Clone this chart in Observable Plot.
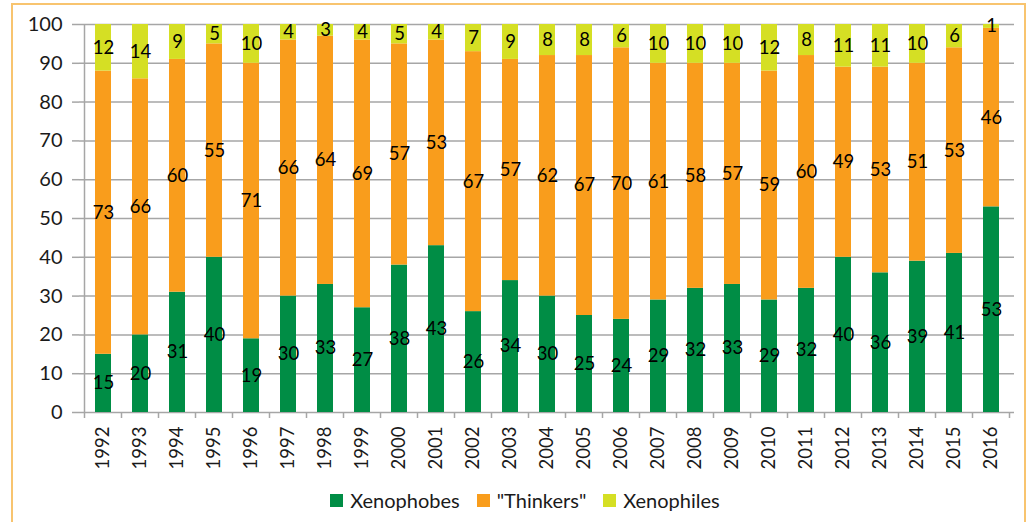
<!DOCTYPE html>
<html><head><meta charset="utf-8">
<script src="https://cdn.jsdelivr.net/npm/d3@7"></script>
<script src="https://cdn.jsdelivr.net/npm/@observablehq/plot@0.6"></script>
<style>
html,body{margin:0;padding:0;background:#fff;}
#wrap{position:relative;width:1030px;height:522px;overflow:hidden;font-family:Lato,sans-serif;}
#border{position:absolute;left:11px;top:3px;width:1015px;height:560px;border:2px solid #F8C46F;box-sizing:border-box;}
#chart{position:absolute;left:0;top:0;}
#legend{position:absolute;top:489px;left:0;width:1050px;display:flex;justify-content:center;gap:17px;font-size:20px;line-height:22px;color:#1a1a1a;}
.item{display:flex;align-items:center;gap:7px}
.sw{width:13px;height:13px}
</style></head>
<body>
<div id="wrap"><div id="border"></div><div id="chart"></div><div id="legend"></div></div>
<script>
const years = ["1992","1993","1994","1995","1996","1997","1998","1999","2000","2001","2002","2003","2004","2005","2006","2007","2008","2009","2010","2011","2012","2013","2014","2015","2016"];
const xenophobes = [15,20,31,40,19,30,33,27,38,43,26,34,30,25,24,29,32,33,29,32,40,36,39,41,53];
const thinkers   = [73,66,60,55,71,66,64,69,57,53,67,57,62,67,70,61,58,57,59,60,49,53,51,53,46];
const xenophiles = [12,14,9,5,10,4,3,4,5,4,7,9,8,8,6,10,10,10,12,8,11,11,10,6,1];
const seriesNames = ["Xenophobes", "\"Thinkers\"", "Xenophiles"];
const seriesColors = ["#008D45", "#F99D1C", "#D5DF24"];
const yTicks = [0,10,20,30,40,50,60,70,80,90,100];

const seriesValues = [xenophobes, thinkers, xenophiles];
const rows = [];
seriesNames.forEach((s, si) => years.forEach((y, i) => rows.push({year: y, series: s, value: seriesValues[si][i]})));

const gridColor = "#A6A6A6";
const plot = Plot.plot({
  width: 1030, height: 475,
  marginTop: 24, marginBottom: 63, marginLeft: 79, marginRight: 16,
  style: {fontFamily: "Lato, sans-serif", background: "transparent", color: "#1a1a1a"},
  x: {type: "band", domain: years, paddingInner: 0.572, paddingOuter: 0.286, label: null},
  y: {domain: [0, 100], label: null},
  color: {domain: seriesNames, range: seriesColors},
  marks: [
    Plot.gridY(yTicks, {stroke: gridColor, strokeOpacity: 1, strokeWidth: 1.5}),
    Plot.barY(rows, {x: "year", y: "value", fill: "series", z: "series"}),
    Plot.text(rows, Plot.stackY({x: "year", y: "value", z: "series", text: d => String(d.value), fontSize: 18.5, fill: "#000"})),
    Plot.axisY(yTicks, {tickSize: 7, tickPadding: 10, stroke: gridColor, strokeWidth: 1.5, fontSize: 20, fill: "#1a1a1a", label: null}),
    Plot.axisX({tickSize: 0, tickPadding: 14, tickRotate: -90, fontSize: 18.5, fill: "#1a1a1a", label: null})
  ]
});
document.getElementById("chart").appendChild(plot);

// axis line and category boundary ticks from the plot's own scales
const xs = plot.scale("x"), ys = plot.scale("y");
const bw = xs.bandwidth;
const centers = years.map(y => xs.apply(y) + bw / 2);
const step = centers[1] - centers[0];
const bounds = centers.map(c => c - step / 2).concat([centers[centers.length - 1] + step / 2]);
const svg = d3.select(plot);
const g = svg.append("g").attr("stroke", gridColor).attr("stroke-width", 1.5);
const y0 = ys.apply(0), y100 = ys.apply(100);
g.append("line").attr("x1", bounds[0]).attr("x2", bounds[0]).attr("y1", y100).attr("y2", y0);
g.selectAll("line.b").data(bounds).join("line").attr("class", "b")
  .attr("x1", d => d).attr("x2", d => d).attr("y1", y0).attr("y2", y0 + 6);

const legend = d3.select("#legend");
seriesNames.forEach((s, i) => {
  const it = legend.append("div").attr("class", "item");
  it.append("div").attr("class", "sw").style("background", seriesColors[i]);
  it.append("span").text(s);
});
</script>
</body></html>
